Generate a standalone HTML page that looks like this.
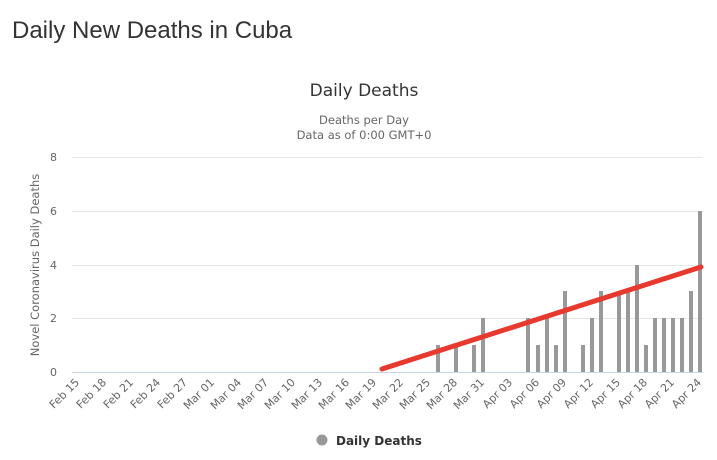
<!DOCTYPE html>
<html><head><meta charset="utf-8"><style>
body{margin:0;background:#fff;width:717px;height:460px;overflow:hidden}
svg{display:block}
</style></head><body>
<svg width="717" height="460" xmlns="http://www.w3.org/2000/svg">
<text x="12" y="38" font-family="Liberation Sans, sans-serif" font-size="24" fill="#333">Daily New Deaths in Cuba</text>
<text x="364" y="96" text-anchor="middle" font-family="DejaVu Sans, sans-serif" font-size="17" fill="#333">Daily Deaths</text>
<text x="364" y="124" text-anchor="middle" font-family="DejaVu Sans, sans-serif" font-size="11.5" fill="#666">Deaths per Day</text>
<text x="364" y="139" text-anchor="middle" font-family="DejaVu Sans, sans-serif" font-size="11.5" fill="#666">Data as of 0:00 GMT+0</text>
<g stroke="#e6e6e6" stroke-width="1">
<line x1="72" x2="703" y1="157.5" y2="157.5"/>
<line x1="72" x2="703" y1="211.5" y2="211.5"/>
<line x1="72" x2="703" y1="265.5" y2="265.5"/>
<line x1="72" x2="703" y1="318.5" y2="318.5"/>
</g>
<line x1="72" x2="703" y1="372.5" y2="372.5" stroke="#ccd6eb"/>
<g font-family="DejaVu Sans, sans-serif" font-size="11" fill="#666" text-anchor="end">
<text x="57" y="161">8</text>
<text x="57" y="215">6</text>
<text x="57" y="269">4</text>
<text x="57" y="322">2</text>
<text x="57" y="376">0</text>
</g>
<text transform="translate(39,265) rotate(-90)" text-anchor="middle" font-family="DejaVu Sans, sans-serif" font-size="11.5" fill="#666">Novel Coronavirus Daily Deaths</text>
<g fill="#999">
<rect x="436" y="345" width="4" height="27"/>
<rect x="454" y="345" width="4" height="27"/>
<rect x="472" y="345" width="4" height="27"/>
<rect x="481" y="318" width="4" height="54"/>
<rect x="526" y="318" width="4" height="54"/>
<rect x="536" y="345" width="4" height="27"/>
<rect x="545" y="318" width="4" height="54"/>
<rect x="554" y="345" width="4" height="27"/>
<rect x="563" y="291" width="4" height="81"/>
<rect x="581" y="345" width="4" height="27"/>
<rect x="590" y="318" width="4" height="54"/>
<rect x="599" y="291" width="4" height="81"/>
<rect x="617" y="291" width="4" height="81"/>
<rect x="626" y="291" width="4" height="81"/>
<rect x="635" y="265" width="4" height="107"/>
<rect x="644" y="345" width="4" height="27"/>
<rect x="653" y="318" width="4" height="54"/>
<rect x="662" y="318" width="4" height="54"/>
<rect x="671" y="318" width="4" height="54"/>
<rect x="680" y="318" width="4" height="54"/>
<rect x="689" y="291" width="4" height="81"/>
<rect x="698" y="211" width="4" height="161"/>
</g>
<line x1="382" y1="369" x2="701" y2="267" stroke="#e8392f" stroke-width="5" stroke-linecap="round"/>
<g font-family="DejaVu Sans, sans-serif" font-size="11" fill="#666" text-anchor="end">
<text transform="translate(80,383) rotate(-45)">Feb 15</text>
<text transform="translate(107,383) rotate(-45)">Feb 18</text>
<text transform="translate(134,383) rotate(-45)">Feb 21</text>
<text transform="translate(161,383) rotate(-45)">Feb 24</text>
<text transform="translate(188,383) rotate(-45)">Feb 27</text>
<text transform="translate(215,383) rotate(-45)">Mar 01</text>
<text transform="translate(242,383) rotate(-45)">Mar 04</text>
<text transform="translate(269,383) rotate(-45)">Mar 07</text>
<text transform="translate(296,383) rotate(-45)">Mar 10</text>
<text transform="translate(323,383) rotate(-45)">Mar 13</text>
<text transform="translate(350,383) rotate(-45)">Mar 16</text>
<text transform="translate(377,383) rotate(-45)">Mar 19</text>
<text transform="translate(404,383) rotate(-45)">Mar 22</text>
<text transform="translate(431,383) rotate(-45)">Mar 25</text>
<text transform="translate(458,383) rotate(-45)">Mar 28</text>
<text transform="translate(485,383) rotate(-45)">Mar 31</text>
<text transform="translate(513,383) rotate(-45)">Apr 03</text>
<text transform="translate(540,383) rotate(-45)">Apr 06</text>
<text transform="translate(567,383) rotate(-45)">Apr 09</text>
<text transform="translate(594,383) rotate(-45)">Apr 12</text>
<text transform="translate(621,383) rotate(-45)">Apr 15</text>
<text transform="translate(648,383) rotate(-45)">Apr 18</text>
<text transform="translate(675,383) rotate(-45)">Apr 21</text>
<text transform="translate(702,383) rotate(-45)">Apr 24</text>
</g>
<circle cx="322" cy="440" r="5.5" fill="#999"/>
<text x="336" y="445" font-family="DejaVu Sans, sans-serif" font-size="12" font-weight="bold" fill="#333">Daily Deaths</text>
</svg>
</body></html>
